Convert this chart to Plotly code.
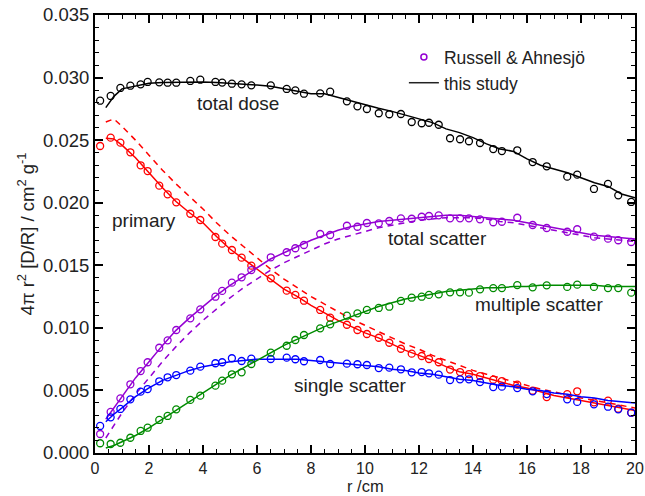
import plotly.graph_objects as go

# ---------------- data ----------------
# Reference data points (Russell & Ahnesjö), radial positions in cm
r_ref = [0.19, 0.58, 0.94, 1.31, 1.69, 1.95, 2.38, 2.69, 3.01, 3.53,
         3.90, 4.46, 4.71, 5.07, 5.43, 5.79, 6.51, 7.10, 7.42, 7.74,
         8.34, 8.71, 9.33, 9.72, 10.07, 10.51, 10.90, 11.33, 11.73, 12.10,
         12.37, 12.73, 13.15, 13.52, 13.85, 14.26, 14.75, 15.07, 15.64, 16.21,
         16.73, 17.49, 17.86, 18.48, 19.00, 19.38, 19.86]

ref_total = [0.02815, 0.02853, 0.02917, 0.02935, 0.02946, 0.02965, 0.02962, 0.02959, 0.02959, 0.02973,
             0.02983, 0.02965, 0.02960, 0.02951, 0.02946, 0.02938, 0.02938, 0.02909, 0.02898, 0.02871,
             0.02874, 0.02887, 0.02810, 0.02770, 0.02749, 0.02715, 0.02707, 0.02709, 0.02645, 0.02635,
             0.02639, 0.02623, 0.02515, 0.02507, 0.02491, 0.02477, 0.02429, 0.02413, 0.02419, 0.02325,
             0.02291, 0.02208, 0.02224, 0.02110, 0.02150, 0.02059, 0.02006]

ref_primary = [0.02453, 0.02520, 0.02480, 0.02403, 0.02299, 0.02253, 0.02136, 0.02067, 0.02003, 0.01912,
               0.01862, 0.01726, 0.01673, 0.01622, 0.01561, 0.01497, 0.01396, 0.01297, 0.01263, 0.01217,
               0.01143, 0.01081, 0.01025, 0.00983, 0.00951, 0.00921, 0.00881, 0.00833, 0.00794, 0.00775,
               0.00751, 0.00725, 0.00667, 0.00647, 0.00631, 0.00615, 0.00586, 0.00575, 0.00546, 0.00498,
               0.00447, 0.00471, 0.00493, 0.00405, 0.00418, 0.00354, 0.00322]

ref_totscat = [0.00152, 0.00328, 0.00437, 0.00549, 0.00655, 0.00725, 0.00841, 0.00900, 0.00983, 0.01076,
               0.01148, 0.01249, 0.01295, 0.01361, 0.01404, 0.01462, 0.01564, 0.01604, 0.01636, 0.01662,
               0.01750, 0.01742, 0.01816, 0.01808, 0.01838, 0.01835, 0.01854, 0.01875, 0.01872, 0.01888,
               0.01894, 0.01899, 0.01875, 0.01875, 0.01875, 0.01867, 0.01844, 0.01848, 0.01880, 0.01822,
               0.01798, 0.01768, 0.01788, 0.01729, 0.01713, 0.01700, 0.01686]

ref_single = [0.00216, 0.00285, 0.00352, 0.00429, 0.00490, 0.00511, 0.00573, 0.00605, 0.00623, 0.00658,
              0.00690, 0.00717, 0.00725, 0.00757, 0.00735, 0.00754, 0.00751, 0.00762, 0.00749, 0.00733,
              0.00743, 0.00711, 0.00714, 0.00709, 0.00703, 0.00679, 0.00682, 0.00669, 0.00645, 0.00647,
              0.00637, 0.00626, 0.00583, 0.00589, 0.00589, 0.00567, 0.00527, 0.00530, 0.00519, 0.00493,
              0.00471, 0.00429, 0.00408, 0.00389, 0.00370, 0.00349, 0.00322]

ref_multiple = [0.00078, 0.00072, 0.00082, 0.00122, 0.00176, 0.00202, 0.00264, 0.00296, 0.00349, 0.00424,
                0.00458, 0.00538, 0.00578, 0.00629, 0.00645, 0.00711, 0.00802, 0.00857, 0.00903, 0.00943,
                0.00996, 0.01028, 0.01097, 0.01116, 0.01143, 0.01159, 0.01169, 0.01215, 0.01241, 0.01249,
                0.01263, 0.01268, 0.01284, 0.01284, 0.01281, 0.01308, 0.01318, 0.01318, 0.01342, 0.01324,
                0.01340, 0.01327, 0.01345, 0.01327, 0.01318, 0.01318, 0.01281]

# This study (lines)
r_line = [0.4, 0.7, 1.0, 1.5, 2.0, 2.5, 3.0, 3.5, 4.0, 4.5,
          5.0, 5.5, 6.0, 6.5, 7.0, 7.5, 8.0, 8.5, 9.0, 9.5,
          10.0, 10.5, 11.0, 11.5, 12.0, 12.5, 13.0, 13.5, 14.0, 14.5,
          15.0, 15.5, 16.0, 16.5, 17.0, 17.5, 18.0, 18.5, 19.0, 19.5, 20.0]

line_total = [0.0276, 0.0285, 0.0291, 0.02935, 0.02955, 0.0296, 0.02962, 0.02965, 0.02965, 0.0296,
              0.02955, 0.02948, 0.0294, 0.0293, 0.0291, 0.0289, 0.0287, 0.0287, 0.0284, 0.0281,
              0.0278, 0.02755, 0.0273, 0.0270, 0.0267, 0.0264, 0.0259, 0.0256, 0.0252, 0.0247,
              0.0243, 0.0241, 0.0235, 0.0230, 0.0227, 0.0224, 0.0220, 0.0216, 0.0213, 0.0207, 0.0204]

line_primary = [0.02515, 0.0251, 0.0246, 0.0236, 0.0224, 0.0212, 0.0201, 0.0192, 0.0184, 0.0173,
                0.0163, 0.0155, 0.0147, 0.0139, 0.0131, 0.0125, 0.0118, 0.0112, 0.0106, 0.0101,
                0.0096, 0.0092, 0.0087, 0.0082, 0.0078, 0.0074, 0.0069, 0.0065, 0.0063, 0.0060,
                0.0057, 0.0054, 0.0052, 0.0049, 0.0046, 0.0044, 0.0042, 0.0040, 0.0038, 0.0036, 0.0034]

line_primary_alt = [0.02645, 0.0267, 0.0261, 0.0250, 0.0238, 0.0226, 0.0215, 0.0205, 0.0195, 0.0184,
                    0.0174, 0.0165, 0.0156, 0.0147, 0.0139, 0.0132, 0.0125, 0.0119, 0.0113, 0.0107,
                    0.0102, 0.0097, 0.0092, 0.0087, 0.0083, 0.0078, 0.0074, 0.0070, 0.0066, 0.0063,
                    0.0060, 0.0057, 0.0054, 0.0051, 0.0049, 0.0046, 0.0044, 0.0042, 0.0040, 0.0038, 0.0036]

line_totscat = [0.0027, 0.0036, 0.0045, 0.0060, 0.0073, 0.0086, 0.0098, 0.0108, 0.0117, 0.0126,
                0.0134, 0.0141, 0.0148, 0.0155, 0.0160, 0.0165, 0.0170, 0.0174, 0.0178, 0.0181,
                0.0183, 0.0185, 0.0186, 0.0187, 0.0188, 0.0189, 0.0190, 0.0190, 0.0189, 0.0188,
                0.0187, 0.0186, 0.0184, 0.0182, 0.0180, 0.0178, 0.0176, 0.0174, 0.0173, 0.0172, 0.0171]

line_totscat_alt = [0.0012, 0.0022, 0.0032, 0.0047, 0.0060, 0.0073, 0.0085, 0.0096, 0.0106, 0.0115,
                    0.0124, 0.0132, 0.0139, 0.0146, 0.0152, 0.0157, 0.0162, 0.0167, 0.0171, 0.0174,
                    0.0177, 0.0180, 0.0182, 0.0184, 0.0186, 0.0187, 0.0188, 0.0188, 0.0188, 0.0187,
                    0.0185, 0.0184, 0.0182, 0.0180, 0.0178, 0.0176, 0.0174, 0.0172, 0.0171, 0.0170, 0.0169]

line_single = [0.0025, 0.0031, 0.0036, 0.0045, 0.0052, 0.0058, 0.0062, 0.0066, 0.0069, 0.0071,
               0.0073, 0.0074, 0.0075, 0.0075, 0.0075, 0.0075, 0.0074, 0.0073, 0.0072, 0.0071,
               0.0070, 0.0069, 0.0067, 0.0066, 0.0064, 0.0063, 0.0061, 0.0059, 0.0058, 0.0056,
               0.0054, 0.0053, 0.0051, 0.0050, 0.0048, 0.0047, 0.0045, 0.0044, 0.0042, 0.0041, 0.0040]

line_multiple = [0.0004, 0.0006, 0.0009, 0.0014, 0.0020, 0.0027, 0.0034, 0.0041, 0.0048, 0.0055,
                 0.0062, 0.0068, 0.0074, 0.0080, 0.0086, 0.0091, 0.0096, 0.0101, 0.0105, 0.0109,
                 0.0113, 0.0117, 0.0120, 0.0123, 0.0125, 0.0127, 0.0129, 0.0130, 0.0131, 0.0132,
                 0.0132, 0.0133, 0.0133, 0.0134, 0.0134, 0.0134, 0.0134, 0.0134, 0.0133, 0.0133, 0.0133]

labels = ["total dose", "primary", "total scatter", "multiple scatter", "single scatter"]
label_x = [5.30, 1.81, 12.67, 16.46, 9.48]
label_y = [0.02789, 0.01854, 0.01718, 0.01183, 0.00543]

x_title = "r /cm"
y_title = "4π r<sup>2</sup> [D/R] / cm<sup>2</sup> g<sup>-1</sup>"

x_ticks = [0, 2, 4, 6, 8, 10, 12, 14, 16, 18, 20]
y_ticks = [0.000, 0.005, 0.010, 0.015, 0.020, 0.025, 0.030, 0.035]

# ---------------- styling ----------------
BLACK = "#000000"
RED = "#ff0000"
VIOLET = "#9400d3"
BLUE = "#0000ff"
GREEN = "#008b00"
TXT = "#222222"
FONT = "Liberation Sans, Arial, Helvetica, sans-serif"

fig = go.Figure()

series = [
    (ref_total, line_total, None, BLACK),
    (ref_primary, line_primary, line_primary_alt, RED),
    (ref_totscat, line_totscat, line_totscat_alt, VIOLET),
    (ref_single, line_single, None, BLUE),
    (ref_multiple, line_multiple, None, GREEN),
]

for ref, ln, alt, col in series:
    if alt is not None:
        fig.add_trace(go.Scatter(x=r_line, y=alt, mode="lines",
                                 line=dict(color=col, width=1.5, dash="6px,5px"),
                                 showlegend=False, hoverinfo="skip"))
    fig.add_trace(go.Scatter(x=r_line, y=ln, mode="lines",
                             line=dict(color=col, width=1.5),
                             showlegend=False, hoverinfo="skip"))
    fig.add_trace(go.Scatter(x=r_ref, y=ref, mode="markers",
                             marker=dict(symbol="circle-open", size=7, color=col,
                                         line=dict(width=1.3, color=col)),
                             showlegend=False, hoverinfo="skip"))

# legend entries
fig.add_trace(go.Scatter(x=[None], y=[None], mode="markers", name="Russell & Ahnesjö",
                         marker=dict(symbol="circle-open", size=6, color=VIOLET,
                                     line=dict(width=1.5, color=VIOLET))))
fig.add_trace(go.Scatter(x=[None], y=[None], mode="lines", name="this study",
                         line=dict(color=TXT, width=1.5)))

for t, lx, ly in zip(labels, label_x, label_y):
    fig.add_annotation(x=lx, y=ly, text=t, showarrow=False, xref="x", yref="y",
                       xanchor="center", yanchor="middle",
                       font=dict(size=19, color=TXT, family=FONT))

# x-axis title placed just under the tick labels, inside the page
fig.add_annotation(x=0.5, y=-0.0975, xref="paper", yref="paper", text=x_title,
                   showarrow=False, xanchor="center", yanchor="bottom", borderpad=0,
                   font=dict(size=16.5, color=TXT, family=FONT))

axis_common = dict(
    showline=True, linecolor=BLACK, linewidth=2, mirror="allticks",
    ticks="inside", ticklen=8, tickwidth=1.5, tickcolor=BLACK,
    showgrid=False, zeroline=False,
)

fig.update_xaxes(range=[0, 20], tickvals=x_ticks, ticktext=[str(v) for v in x_ticks],
                 ticklabeloverflow="allow",
                 tickfont=dict(size=16, color=TXT, family=FONT),
                 minor=dict(dtick=0.5, ticks="inside", ticklen=4, tickwidth=1.2, tickcolor=BLACK, showgrid=False),
                 **axis_common)
fig.update_yaxes(range=[0, 0.035], tickvals=y_ticks, ticktext=[f"{v:.3f}" for v in y_ticks],
                 tickfont=dict(size=18.5, color=TXT, family=FONT),
                 minor=dict(dtick=0.001, ticks="inside", ticklen=4, tickwidth=1.2, tickcolor=BLACK, showgrid=False),
                 title=dict(text=y_title, font=dict(size=18.5, color=TXT, family=FONT), standoff=4),
                 **axis_common)

fig.update_layout(
    width=645, height=496,
    margin=dict(l=95, r=10, t=15, b=43, autoexpand=False),
    paper_bgcolor="white", plot_bgcolor="white",
    font=dict(family=FONT, color=TXT),
    legend=dict(x=0.572, y=0.945, xanchor="left", yanchor="top",
                bgcolor="rgba(0,0,0,0)", font=dict(size=17.5, color=TXT, family=FONT),
                tracegroupgap=0, itemwidth=30),
)

fig.write_html("out.html")
